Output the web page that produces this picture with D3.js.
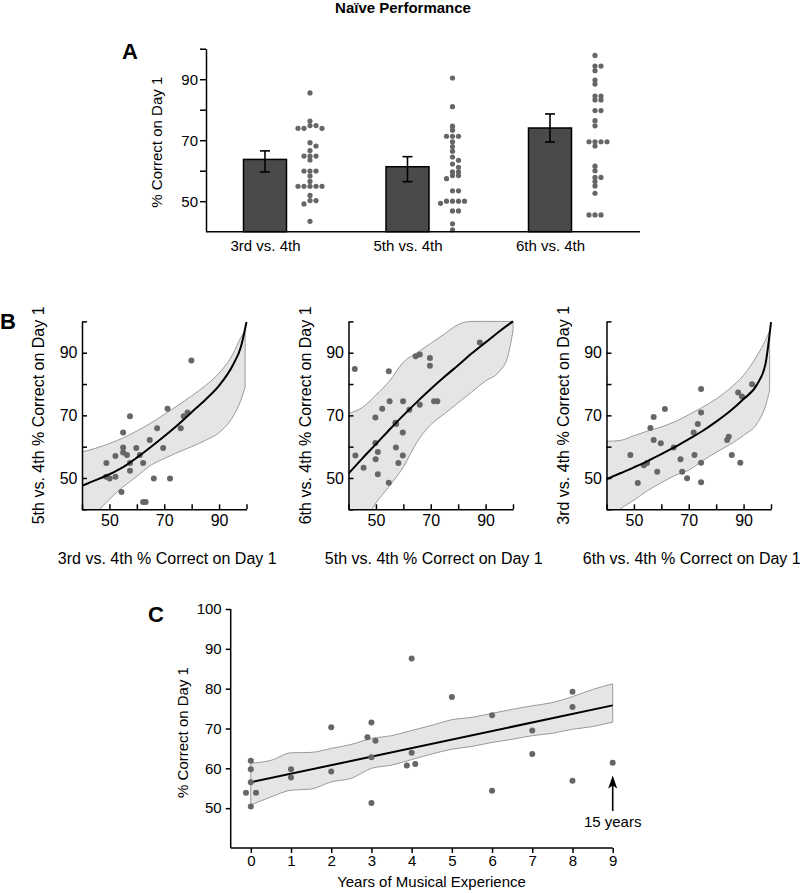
<!DOCTYPE html>
<html><head><meta charset="utf-8">
<script src="https://cdn.jsdelivr.net/npm/d3@7"></script>
<style>
body{margin:0;background:#fff}
text{font-family:"Liberation Sans",Arial,Helvetica,sans-serif;fill:#000}
</style>
</head><body><svg id="c" width="800" height="893"></svg>
<script>
// ---------------- DATA ----------------
const title = "Naïve Performance";
// Panel A
const aCategories = ["3rd vs. 4th", "5th vs. 4th", "6th vs. 4th"];
const aMeans   = [63.7, 61.3, 74.0];
const aErrLow  = [59.6, 56.4, 69.4];
const aErrHigh = [66.5, 64.6, 78.6];
const aDots3rd = [85.5,76.3,74.8,74.8,73.9,73.9,73.9,69.2,68.1,66.6,64.8,64.8,64.8,63.5,59.9,59.9,59.9,58.3,56.5,54.9,54.9,54.9,54.9,54.9,51.9,50.2,50.2,49.1,43.4];
const aDots5th = [90.4,81.0,74.6,73.3,71.3,71.3,71.3,69.5,67.9,66.4,64.5,63.4,62.2,61.1,59.6,59.6,58.4,58.4,57.4,53.4,53.4,50.0,50.0,50.0,50.0,49.3,46.8,46.8,42.6,40.6];
const aDots6th = [97.8,94.3,94.3,92.8,89.7,88.4,84.5,84.5,83.2,83.2,79.7,79.7,76.4,74.7,69.5,69.5,69.5,69.5,68.1,61.5,60.0,57.8,57.8,56.5,55.0,52.6,45.5,45.5,45.5];
const aYTicks = [50, 60, 70, 80, 90, 100];
const aYLabels = [50, 70, 90];

// Panel B (three scatter plots)
const bTicks = [40, 50, 60, 70, 80, 90, 100];
const bLabels = [50, 70, 90];
const b1XTitle = "3rd vs. 4th % Correct on Day 1", b1YTitle = "5th vs. 4th % Correct on Day 1";
const b2XTitle = "5th vs. 4th % Correct on Day 1", b2YTitle = "6th vs. 4th % Correct on Day 1";
const b3XTitle = "6th vs. 4th % Correct on Day 1", b3YTitle = "3rd vs. 4th % Correct on Day 1";

const b1X = [79.9,71.2,57.5,78.5,77.1,76.0,67.4,55.0,64.7,55.0,59.8,69.6,55.0,56.4,61.1,52.2,57.5,62.3,48.9,57.5,48.8,50.1,52.2,66.2,72.1,54.4,62.3,63.2];
const b1Y = [87.5,72.1,69.7,70.9,69.7,65.9,65.9,64.5,62.1,59.7,59.6,59.6,58.1,57.3,57.3,57.0,54.8,54.8,54.8,52.3,50.4,49.8,50.4,49.8,49.8,45.5,42.3,42.3];
const b1FitX = [40,45,50,55,60,65,70,75,80,85,90,95,98,100];
const b1Fit  = [47.5,49.3,51.2,53.5,56.5,59.8,63.3,67,71,75,79.5,86,92,99.8];
const b1BandX = [40,45,50,55,60,65,70,75,80,85,90,95,98,99.5];
const b1Hi = [58.3,59.5,61,62.8,65,67.5,70.3,73.2,76.2,79.5,83.5,89.5,95,97];
const b1Lo = [36,38.8,43.2,47.2,50.5,54,56.2,58.2,60,62,64.5,69.5,75,79];

const b2X = [42.3,54.7,64.5,66.0,69.7,69.7,87.9,55.0,59.9,71.2,72.4,66.0,52.3,62.2,49.8,57.1,57.4,59.8,49.8,50.7,49.9,57.3,59.8,58.2,42.5,45.5,50.7,54.7];
const b2Y = [84.8,84.1,88.9,89.4,88.3,85.8,93.3,74.5,74.5,74.5,74.5,73.4,72.1,71.8,69.3,67.6,67.2,64.5,61.2,58.3,56.0,59.7,57.2,54.8,57.2,53.3,51.2,48.5];
const b2FitX = [40,45,50,55,60,65,70,75,80,85,90,95,100];
const b2Fit  = [51.4,56.2,60.8,65.5,70,74.3,78.4,82.3,86,89.8,93.3,96.8,100];
const b2BandX = [40,45,50,55,60,65,70,75,80,85,90,95,98,100];
const b2Hi = [70.6,72.5,76.5,81,87,90,93,96,99,100,100,100,100,100];
const b2Lo = [30,35,42,47.5,53.5,61.5,67,70.5,74,77.5,81,84,88.5,97];

const b3X = [93.1,88.0,89.4,74.5,74.5,61.3,57.2,56.0,73.3,71.8,57.2,59.8,64.5,84.6,84.0,48.7,67.0,72.1,85.7,53.6,54.8,74.5,58.5,67.6,88.8,69.4,51.4,74.5];
const b3Y = [79.9,77.3,76.0,78.4,70.9,72.0,69.5,66.0,67.2,64.5,62.1,61.1,59.7,63.2,62.1,57.3,56.0,57.3,57.3,54.1,54.8,54.9,52.0,52.0,54.9,49.9,48.4,48.6];
const b3FitX = [40,45,50,55,60,65,70,75,80,85,90,95,98,100];
const b3Fit  = [49.6,51.5,53.4,55.4,57.6,59.9,62.4,65,68,71.3,75.2,80,86.5,99.8];
const b3BandX = [40,45,50,55,60,65,70,75,80,85,90,95,98,99.5];
const b3Hi = [61.7,62,63.5,65,66.3,68,70.2,72.6,75.2,78.6,82.8,89.2,94,97];
const b3Lo = [35,40,42.9,46,48.5,50.8,52.5,55.5,58.2,60.7,63.6,67.5,73,78];

// Panel C
const cYears = [-0.12,0.13,0,0,0,0,1,1,2,2,3,2.9,3.1,3,3,4,4,3.88,4.09,5,6,6,7,7,8,8,8,9];
const cScore = [53.9,53.9,61.9,59.8,56.5,50.4,59.8,57.7,70.3,59.2,71.5,67.8,66.9,62.8,51.3,87.6,63.9,60.7,61.1,77.9,73.3,54.4,69.5,63.6,79.2,75.4,56.9,61.4];
const cFitX = [0, 9];
const cFit  = [56.5, 75.8];
const cBandX = [0,0.5,1,1.5,2,2.5,3,3.5,4,4.5,5,5.5,6,6.5,7,7.5,8,8.5,9];
const cHi = [61.3,62,63.9,64,65,66,67.5,68.2,69.5,70.8,72.2,72.8,73.8,74.8,75.7,76.5,78,79.8,81.2];
const cLo = [50.8,52.8,54.5,54.8,56.6,57.5,60,60.8,62.2,63.6,64.8,65.5,66.5,67.3,68.2,68.8,69.8,70.5,71.6];
const cXTicks = [0,1,2,3,4,5,6,7,8,9];
const cYTicks = [50,60,70,80,90,100];
const cArrow = {x: 9, from: 49.3, to: 58.2, label: "15 years"};

// ---------------- DRAW ----------------
const svg = d3.select("#c");
const DOT = "#666666";

svg.append("text").attr("x", 403).attr("y", 13).attr("text-anchor", "middle")
  .attr("font-weight", "bold").attr("font-size", 15).text(title);

function styleAxis(g, fs) {
  g.selectAll("path.domain").attr("stroke", "#000").attr("stroke-width", 1.5);
  g.selectAll(".tick line").attr("stroke", "#000").attr("stroke-width", 1.5);
  g.selectAll(".tick text").attr("font-size", fs).attr("font-family", null).attr("fill", "#000");
  g.attr("font-family", null);
}

// ===== Panel A =====
(function () {
  const xAxisLeft = 206, xAxisRight = 640;
  const y = d3.scaleLinear().domain([40, 100]).range([231.7, 48.7]);
  const x = d3.scalePoint().domain(aCategories).range([265, 550]);
  const barW = 43, dotOff = 45;
  const g = svg.append("g");
  svg.append("text").attr("x", 122).attr("y", 59).attr("font-weight", "bold").attr("font-size", 22).text("A");

  // bars
  g.selectAll("rect.bar").data(aCategories).join("rect")
    .attr("x", d => x(d) - barW / 2).attr("width", barW)
    .attr("y", (d, i) => y(aMeans[i])).attr("height", (d, i) => y(40) - y(aMeans[i]))
    .attr("fill", "#4a4a4a").attr("stroke", "#000").attr("stroke-width", 1.5);
  // error bars
  aCategories.forEach((c, i) => {
    const cx = x(c);
    g.append("line").attr("x1", cx).attr("x2", cx).attr("y1", y(aErrLow[i])).attr("y2", y(aErrHigh[i])).attr("stroke", "#000").attr("stroke-width", 1.6);
    [aErrLow[i], aErrHigh[i]].forEach(v => g.append("line").attr("x1", cx - 5).attr("x2", cx + 5).attr("y1", y(v)).attr("y2", y(v)).attr("stroke", "#000").attr("stroke-width", 1.6));
  });
  // beeswarm dots
  const step = 6, r = 2.6;
  [aDots3rd, aDots5th, aDots6th].forEach((vals, i) => {
    const cx = x(aCategories[i]) + dotOff;
    const placed = [];
    vals.slice().sort((a, b) => b - a).forEach(v => {
      const py = y(v);
      const offs = [0, step, -step, 2 * step, -2 * step, 3 * step, -3 * step];
      let chosen = 0;
      for (const o of offs) {
        if (!placed.some(p => Math.abs(p.y - py) < 3.4 && Math.abs(p.x - (cx + o)) < 5.5)) { chosen = o; break; }
      }
      placed.push({x: cx + chosen, y: py});
    });
    g.selectAll(null).data(placed).join("circle").attr("cx", d => d.x).attr("cy", d => d.y).attr("r", r).attr("fill", DOT);
  });

  // axes
  const ya = g.append("g").attr("transform", `translate(${xAxisLeft},0)`)
    .call(d3.axisLeft(y).tickValues(aYTicks).tickFormat(d => aYLabels.includes(d) ? d : "").tickSize(6).tickSizeOuter(0).tickPadding(2));
  styleAxis(ya, 15);
  g.append("line").attr("x1", xAxisLeft).attr("x2", xAxisRight).attr("y1", y(40)).attr("y2", y(40)).attr("stroke", "#000").attr("stroke-width", 1.5);
  const xa = g.append("g").attr("transform", `translate(0,${y(40)})`).call(d3.axisBottom(x).tickSize(0).tickPadding(8.6));
  xa.select("path.domain").remove();
  styleAxis(xa, 15);

  svg.append("text").attr("transform", `translate(162,${(y(40) + y(100)) / 2 + 2}) rotate(-90)`)
    .attr("text-anchor", "middle").attr("font-size", 15).text("% Correct on Day 1");
})();

// ===== Panel B =====
svg.append("text").attr("x", 0).attr("y", 329).attr("font-weight", "bold").attr("font-size", 22).text("B");
function scatterB(left, xs, ys, fitX, fit, bandX, lo, hi, xTitle, yTitle, id) {
  const width = 164.5;
  const x = d3.scaleLinear().domain([40, 100]).range([left, left + width]);
  const y = d3.scaleLinear().domain([40, 100]).range([509.3, 321.4]);
  const g = svg.append("g");
  g.append("clipPath").attr("id", id).append("rect")
    .attr("x", x(40)).attr("y", y(100) - 2).attr("width", width + 2).attr("height", y(40) - y(100) + 2);
  const band = d3.area().x((d, i) => x(bandX[i])).y0((d, i) => y(lo[i])).y1((d, i) => y(hi[i])).curve(d3.curveMonotoneX);
  g.append("path").datum(bandX).attr("d", band).attr("clip-path", `url(#${id})`)
    .attr("fill", "#e5e5e5").attr("stroke", "#9a9a9a").attr("stroke-width", 1);
  g.selectAll(null).data(xs).join("circle").attr("cx", d => x(d)).attr("cy", (d, i) => y(ys[i])).attr("r", 3).attr("fill", DOT);
  const line = d3.line().x((d, i) => x(fitX[i])).y((d, i) => y(fit[i])).curve(d3.curveMonotoneX);
  g.append("path").datum(fitX).attr("d", line).attr("clip-path", `url(#${id})`).attr("fill", "none").attr("stroke", "#000").attr("stroke-width", 2);

  const ya = g.append("g").attr("transform", `translate(${x(40)},0)`)
    .call(d3.axisLeft(y).tickValues(bTicks).tickFormat(d => bLabels.includes(d) ? d : "").tickSize(-5).tickSizeOuter(0).tickPadding(4.5));
  styleAxis(ya, 16);
  const xa = g.append("g").attr("transform", `translate(0,${y(40)})`)
    .call(d3.axisBottom(x).tickValues(bTicks).tickFormat(d => bLabels.includes(d) ? d : "").tickSize(-5).tickSizeOuter(0).tickPadding(5));
  styleAxis(xa, 16);

  g.append("text").attr("x", left + width / 2 + 3).attr("y", 564).attr("text-anchor", "middle").attr("font-size", 16).text(xTitle);
  g.append("text").attr("transform", `translate(${left - 38},${(y(40) + y(100)) / 2}) rotate(-90)`)
    .attr("text-anchor", "middle").attr("font-size", 16).text(yTitle);
}
scatterB(82, b1X, b1Y, b1FitX, b1Fit, b1BandX, b1Lo, b1Hi, b1XTitle, b1YTitle, "clipB1");
scatterB(348.5, b2X, b2Y, b2FitX, b2Fit, b2BandX, b2Lo, b2Hi, b2XTitle, b2YTitle, "clipB2");
scatterB(606.5, b3X, b3Y, b3FitX, b3Fit, b3BandX, b3Lo, b3Hi, b3XTitle, b3YTitle, "clipB3");

// ===== Panel C =====
(function () {
  const x = d3.scaleLinear().domain([-0.5, 9]).range([230.7, 612.7]);
  const y = d3.scaleLinear().domain([40, 100]).range([848, 609]);
  const g = svg.append("g");
  svg.append("text").attr("x", 148).attr("y", 622).attr("font-weight", "bold").attr("font-size", 22).text("C");
  const band = d3.area().x((d, i) => x(cBandX[i])).y0((d, i) => y(cLo[i])).y1((d, i) => y(cHi[i])).curve(d3.curveMonotoneX);
  g.append("path").datum(cBandX).attr("d", band).attr("fill", "#e5e5e5").attr("stroke", "#9a9a9a").attr("stroke-width", 1);
  g.append("line").attr("x1", x(cFitX[0])).attr("x2", x(cFitX[1])).attr("y1", y(cFit[0])).attr("y2", y(cFit[1])).attr("stroke", "#000").attr("stroke-width", 2);
  g.selectAll(null).data(cYears).join("circle").attr("cx", d => x(d)).attr("cy", (d, i) => y(cScore[i])).attr("r", 3).attr("fill", DOT);

  const ya = g.append("g").attr("transform", `translate(${x(-0.5)},0)`)
    .call(d3.axisLeft(y).tickValues(cYTicks).tickSize(5).tickSizeOuter(0).tickPadding(4));
  styleAxis(ya, 15);
  ya.select("path.domain").attr("d", `M0,${y(40)}V${y(100)}`);
  const xa = g.append("g").attr("transform", `translate(0,${y(40)})`)
    .call(d3.axisBottom(x).tickValues(cXTicks).tickFormat(d3.format("d")).tickSize(5).tickSizeOuter(0).tickPadding(2));
  styleAxis(xa, 15);
  xa.select("path.domain").attr("d", `M${x(-0.5)},0H${x(9)}`);

  // arrow annotation
  const ax = x(cArrow.x);
  g.append("line").attr("x1", ax).attr("x2", ax).attr("y1", y(cArrow.from)).attr("y2", y(cArrow.to) + 8).attr("stroke", "#000").attr("stroke-width", 1.6);
  g.append("path").attr("d", `M${ax},${y(cArrow.to)}L${ax - 4.5},${y(cArrow.to) + 13}L${ax},${y(cArrow.to) + 10}L${ax + 4.5},${y(cArrow.to) + 13}Z`).attr("fill", "#000");
  g.append("text").attr("x", ax).attr("y", 827).attr("text-anchor", "middle").attr("font-size", 15).text(cArrow.label);

  g.append("text").attr("x", 431.5).attr("y", 887).attr("text-anchor", "middle").attr("font-size", 15).text("Years of Musical Experience");
  g.append("text").attr("transform", `translate(188,${(y(40) + y(100)) / 2 + 4}) rotate(-90)`)
    .attr("text-anchor", "middle").attr("font-size", 15).text("% Correct on Day 1");
})();
</script>
</body></html>
